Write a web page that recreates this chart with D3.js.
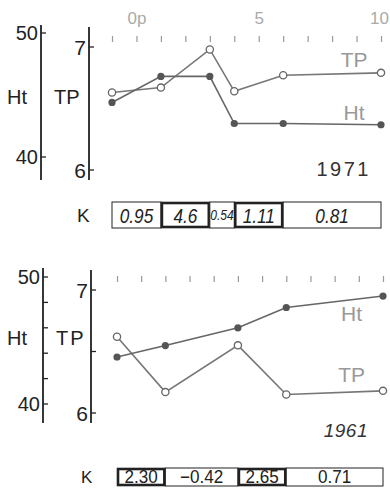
<!DOCTYPE html>
<html>
<head>
<meta charset="utf-8">
<script src="https://cdn.jsdelivr.net/npm/d3@7"></script>
<style>
  body { margin: 0; background: #fff; }
  svg { display: block; }
  text { font-family: "Liberation Sans", Arial, sans-serif; }
</style>
</head>
<body>
<div id="chart"></div>
<script>
// x positions (tick units) and values
const xTicks = [-1, 0, 1, 2, 3, 4, 5, 6, 7, 8, 9, 10];
const xTickLabels = { 0: "0p", 5: "5", 10: "10" };

const x1971 = [-1, 1, 3, 4, 6, 10];
const tp1971 = [6.63, 6.67, 6.98, 6.64, 6.77, 6.79];
const ht1971 = [44.4, 46.5, 46.5, 42.7, 42.7, 42.6];
const k1971 = ["0.95", "4.6", "0.54", "1.11", "0.81"];

const x1961 = [-1, 1, 4, 6, 10];
const tp1961 = [6.62, 6.17, 6.55, 6.15, 6.18];
const ht1961 = [43.7, 44.6, 46.0, 47.6, 48.5];
const k1961 = ["2.30", "−0.42", "2.65", "0.71"];

const htTicks = [40, 50];
const htMinorTicks = [42, 44, 46, 48];
const tpTicks = [6, 7];
const tpMinorTicks = [6.5];

const width = 390, height = 488;

const svg = d3.select("#chart")
    .append("svg")
    .attr("width", width)
    .attr("height", height);

function kNum(label) {
    return parseFloat(label.replace("−", "-"));
}

// text squeezed horizontally, the print uses a narrow face
function narrowText(g, x, y, str, sx) {
    return g.append("text")
        .attr("transform", `translate(${x},${y}) scale(${sx},1)`)
        .text(str);
}

function drawYAxis(g, scale, axisX, major, minor, top, bottom, fontSize) {
    g.append("line")
        .attr("x1", axisX).attr("x2", axisX)
        .attr("y1", top).attr("y2", bottom)
        .attr("stroke", "#222").attr("stroke-width", 1.8);
    g.selectAll(null).data(major.concat(minor)).enter().append("line")
        .attr("x1", axisX).attr("x2", axisX + 5)
        .attr("y1", d => scale(d)).attr("y2", d => scale(d))
        .attr("stroke", "#222").attr("stroke-width", 1.3);
    g.selectAll(null).data(major).enter().append("text")
        .attr("x", axisX - 3).attr("y", d => scale(d) + fontSize * 0.36)
        .attr("text-anchor", "end").attr("fill", "#222")
        .style("font-size", fontSize + "px")
        .text(d => d);
}

function drawPanel(p) {
    const g = svg.append("g");

    const x = d3.scaleLinear().domain([-1, 10]).range(p.xRange);
    const yHt = d3.scaleLinear().domain([40, 50]).range(p.htRange);
    const yTP = d3.scaleLinear().domain([6, 7]).range(p.tpRange);

    drawYAxis(g, yHt, p.htX, htTicks, p.minor ? htMinorTicks : [], p.axisTop, p.axisBottom, 20);
    drawYAxis(g, yTP, p.tpX, tpTicks, p.minor ? tpMinorTicks : [], p.axisTop + 2, p.axisBottom, 21);

    // axis titles
    g.append("text").attr("x", 7).attr("y", p.titleY)
        .attr("fill", "#222").style("font-size", "20px").text("Ht");
    g.append("text").attr("x", p.tpX - 35).attr("y", p.titleY)
        .attr("fill", "#222").style("font-size", "20px")
        .attr("letter-spacing", p.tpSpacing).text("TP");

    // top x ticks
    const xAxis = g.append("g")
        .attr("transform", `translate(0,${p.tickY})`)
        .call(d3.axisTop(x).tickValues(xTicks)
            .tickSizeInner(-6).tickSizeOuter(0).tickPadding(12)
            .tickFormat(d => p.showXLabels ? (xTickLabels[d] || "") : ""));
    xAxis.select(".domain").remove();
    xAxis.selectAll("line").attr("stroke", "#999").attr("stroke-width", 1.2);
    xAxis.selectAll("text").attr("fill", "#aaa")
        .attr("dx", d => d === 10 ? -2 : 0)
        .style("font-size", "17px").style("font-family", "'Liberation Sans', Arial, sans-serif");

    // lines
    const tpData = p.xs.map((d, i) => [d, p.tp[i]]);
    const htData = p.xs.map((d, i) => [d, p.ht[i]]);

    g.append("path")
        .datum(tpData)
        .attr("fill", "none").attr("stroke", "#777").attr("stroke-width", 1.6)
        .attr("d", d3.line().x(d => x(d[0])).y(d => yTP(d[1])));
    g.append("path")
        .datum(htData)
        .attr("fill", "none").attr("stroke", "#666").attr("stroke-width", 1.6)
        .attr("d", d3.line().x(d => x(d[0])).y(d => yHt(d[1])));

    g.selectAll(".tp-pt").data(tpData).enter().append("circle")
        .attr("cx", d => x(d[0])).attr("cy", d => yTP(d[1])).attr("r", 3.6)
        .attr("fill", "#fff").attr("stroke", "#666").attr("stroke-width", 1.3);
    g.selectAll(".ht-pt").data(htData).enter().append("circle")
        .attr("cx", d => x(d[0])).attr("cy", d => yHt(d[1])).attr("r", 3.6)
        .attr("fill", "#555");

    // series labels
    g.append("text").attr("x", x(p.tpLabel[0])).attr("y", yTP(p.tpLabel[1]))
        .attr("text-anchor", "middle").attr("fill", "#999")
        .style("font-size", "21px").text("TP");
    g.append("text").attr("x", x(p.htLabel[0])).attr("y", yHt(p.htLabel[1]))
        .attr("text-anchor", "middle").attr("fill", "#999")
        .style("font-size", "21px").text("Ht");

    // year
    g.append("text").attr("x", p.yearX).attr("y", p.yearY)
        .attr("text-anchor", "end").attr("fill", "#333")
        .attr("letter-spacing", p.yearSpacing)
        .style("font-size", p.yearFont + "px").style("font-style", p.yearItalic ? "italic" : "normal")
        .text(p.year);

    // K row: each box spans two neighbouring points
    g.append("text").attr("x", p.kX).attr("y", p.kY + p.kH / 2 + p.kLetterFont * 0.36)
        .attr("fill", "#222").style("font-size", p.kLetterFont + "px").text("K");

    const boxes = p.k.map((label, i) => ({ x0: p.xs[i], x1: p.xs[i + 1], label }));
    const kg = g.selectAll(".kbox").data(boxes).enter().append("g");
    kg.append("rect")
        .attr("x", d => x(d.x0) + (kNum(d.label) > 1 ? 1 : 0))
        .attr("y", d => p.kY + (kNum(d.label) > 1 ? 1 : 0))
        .attr("width", d => x(d.x1) - x(d.x0) - (kNum(d.label) > 1 ? 2 : 0))
        .attr("height", d => p.kH - (kNum(d.label) > 1 ? 2 : 0))
        .attr("fill", "#fff").attr("stroke", "#222")
        .attr("stroke-width", d => kNum(d.label) > 1 ? 2.6 : 1);
    kg.each(function (d) {
        const w = x(d.x1) - x(d.x0);
        const fs = w < 30 ? p.kFont * 0.7 : p.kFont;
        narrowText(d3.select(this), (x(d.x0) + x(d.x1)) / 2, p.kY + p.kH / 2 + fs * 0.36, d.label, p.kScale)
            .attr("text-anchor", "middle").attr("fill", "#222")
            .style("font-style", p.kItalic ? "italic" : "normal")
            .style("font-size", fs + "px");
    });
}

drawPanel({
    xRange: [112, 381], htRange: [157, 33], tpRange: [170, 47],
    htX: 41, tpX: 89, axisTop: 25, axisBottom: 180,
    minor: false, titleY: 104, tpSpacing: 0,
    tickY: 36, showXLabels: true,
    xs: x1971, tp: tp1971, ht: ht1971, k: k1971,
    tpLabel: [8.9, 6.84], htLabel: [8.9, 43.0],
    year: "1971", yearX: 371, yearY: 176, yearSpacing: 2.5, yearFont: 20, yearItalic: false,
    kX: 77, kY: 202, kH: 26, kFont: 21, kLetterFont: 19, kScale: 0.82, kItalic: true
});

drawPanel({
    xRange: [117, 383], htRange: [404, 277], tpRange: [413, 290],
    htX: 43, tpX: 91, axisTop: 268, axisBottom: 423,
    minor: true, titleY: 345, tpSpacing: 2,
    tickY: 276, showXLabels: false,
    xs: x1961, tp: tp1961, ht: ht1961, k: k1961,
    tpLabel: [8.7, 6.25], htLabel: [8.7, 46.5],
    year: "1961", yearX: 368, yearY: 437, yearSpacing: 0.5, yearFont: 19, yearItalic: true,
    kX: 81, kY: 468, kH: 18, kFont: 18, kLetterFont: 17, kScale: 0.95, kItalic: false
});
</script>
</body>
</html>
